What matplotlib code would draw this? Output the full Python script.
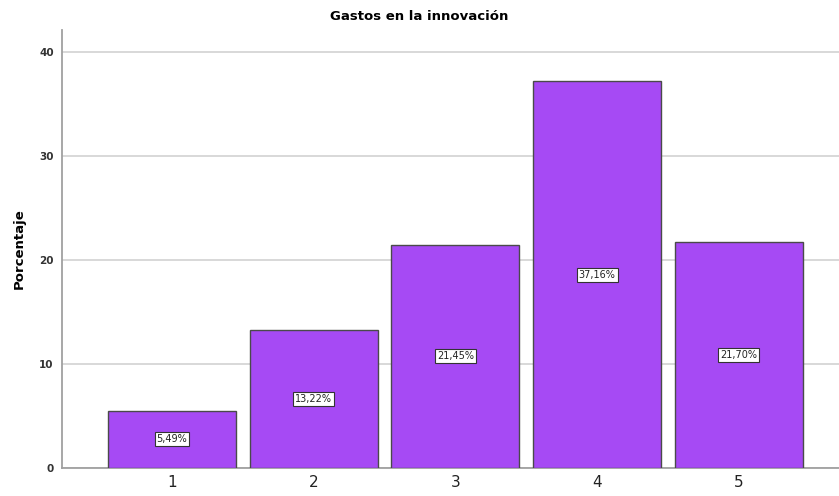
import matplotlib
matplotlib.use("Agg")
import matplotlib.pyplot as plt

categories = ["1", "2", "3", "4", "5"]
values = [5.49, 13.22, 21.45, 37.16, 21.70]
yticks = [0, 10, 20, 30, 40]

fig = plt.figure(figsize=(8.39, 4.96), dpi=100)
ax = fig.add_axes([62 / 839, 28 / 496, 1 - 62 / 839, (468 - 30) / 496])

x = list(range(1, len(categories) + 1))
ax.bar(x, values, width=0.903, color="#A64AF4", edgecolor="#4a4a4a", linewidth=1.0, zorder=3)

for xi, v in zip(x, values):
    label = f"{v:.2f}%".replace(".", ",")
    ax.text(xi, v / 2, label, ha="center", va="center", fontsize=7, color="#222222",
            bbox=dict(boxstyle="square,pad=0.2", facecolor="white", edgecolor="#333333", linewidth=0.8),
            zorder=4)

ax.set_xlim(0.224, 5.706)
ax.set_ylim(0, 42.1)
ax.set_yticks(yticks)
ax.set_yticklabels([str(t) for t in yticks], fontsize=7.5, color="#333333", fontweight="semibold")
ax.set_xticks(x)
ax.set_xticklabels(categories, fontsize=11, color="#222222")
ax.tick_params(axis="both", length=0, pad=6)
ax.tick_params(axis="x", pad=5)

ax.grid(axis="y", color="#d6d6d6", linewidth=1.3, zorder=0)
for side in ["top", "right"]:
    ax.spines[side].set_visible(False)
ax.spines["left"].set_color("#a0a0a0")
ax.spines["left"].set_linewidth(1.3)
ax.spines["bottom"].set_color("#a0a0a0")
ax.spines["bottom"].set_linewidth(1.3)

ax.set_ylabel("Porcentaje", fontsize=9.5, fontweight="bold")
ax.yaxis.set_label_coords(-(62 - 26) / (839 - 62), 0.5)
fig.text(0.5, 1 - 17 / 496, "Gastos en la innovación", ha="center", va="center",
         fontsize=9.5, fontweight="bold")

fig.savefig("out.png", dpi=100)
